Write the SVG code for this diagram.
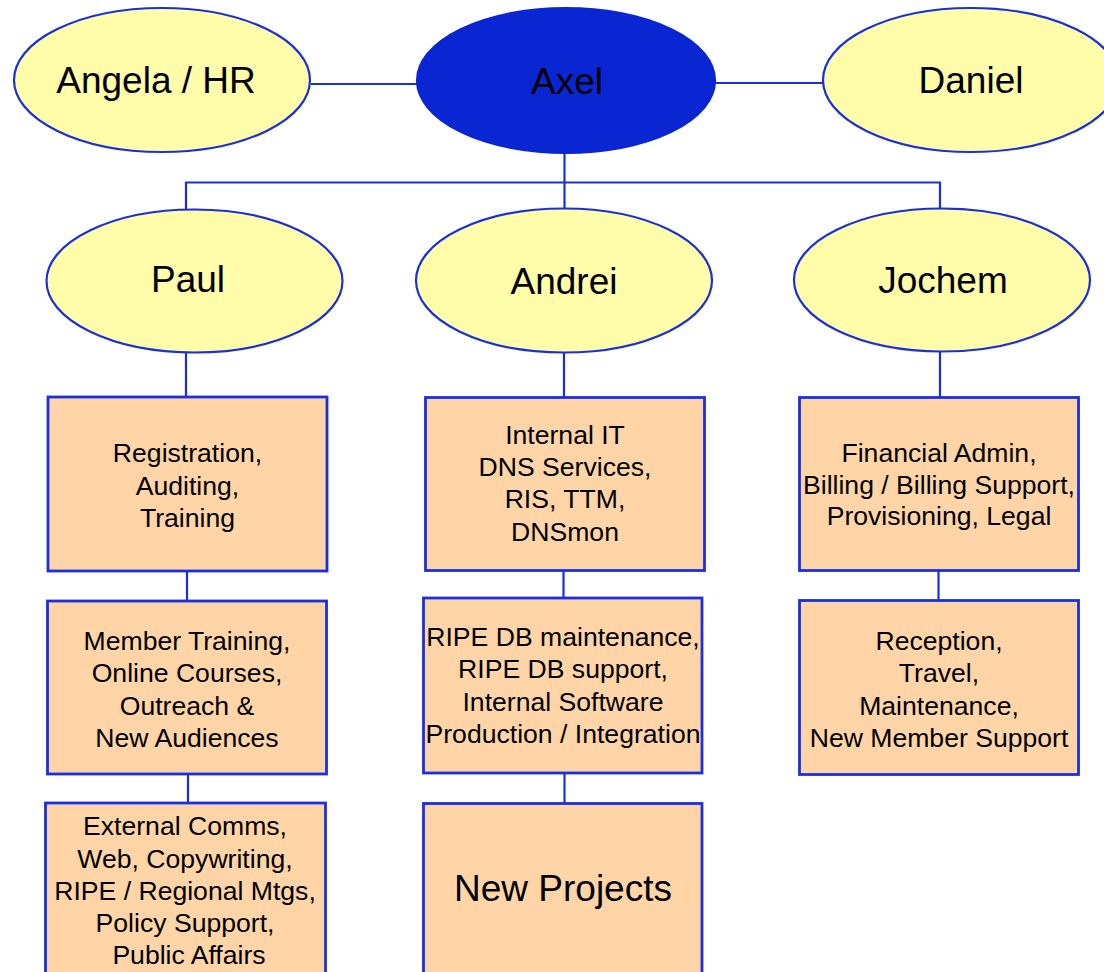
<svg xmlns="http://www.w3.org/2000/svg" width="1104" height="972" viewBox="0 0 1104 972">
<style>
.ell{fill:#FFFCAA;stroke:#1A2FD8;stroke-width:2.2}
.boss{fill:#0A26D3;stroke:#0A26D3;stroke-width:2.2}
.box{fill:#FFD5A8;stroke:#1A2FE0;stroke-width:2.8}
.con{fill:none;stroke:#1A2FD8;stroke-width:2.2}
.big{font-family:"Liberation Sans",Arial,sans-serif;font-size:37px;fill:#000;text-anchor:middle}
.sm{font-family:"Liberation Sans",Arial,sans-serif;font-size:26.6px;fill:#000;text-anchor:middle}
</style>
<rect width="1104" height="972" fill="#FFFFFF"/>
<g id="connectors">
<line class="con" x1="311" y1="84" x2="418" y2="84"/>
<line class="con" x1="715" y1="83" x2="823" y2="83"/>
<line class="con" x1="564.5" y1="152" x2="564.5" y2="209"/>
<polyline class="con" points="186,210 186,182.5 940,182.5 940,209"/>
<line class="con" x1="186" y1="352" x2="186" y2="397"/>
<line class="con" x1="564" y1="352" x2="564" y2="397"/>
<line class="con" x1="940" y1="351" x2="940" y2="397"/>
<line class="con" x1="187" y1="571" x2="187" y2="601"/>
<line class="con" x1="188" y1="774" x2="188" y2="803"/>
<line class="con" x1="563.5" y1="571" x2="563.5" y2="598"/>
<line class="con" x1="564.5" y1="773" x2="564.5" y2="803"/>
<line class="con" x1="938.5" y1="571" x2="938.5" y2="600"/>
</g>
<g id="angela">
<ellipse class="ell" cx="162" cy="80" rx="148" ry="72"/>
<text class="big" x="156" y="93">Angela / HR</text>
</g>
<g id="axel">
<ellipse class="boss" cx="566" cy="80.5" rx="149" ry="72.5"/>
<text class="big" x="567" y="94">Axel</text>
</g>
<g id="daniel">
<ellipse class="ell" cx="971" cy="80" rx="148" ry="72"/>
<text class="big" x="971" y="93">Daniel</text>
</g>
<g id="paul">
<ellipse class="ell" cx="194.5" cy="281" rx="148" ry="71.5"/>
<text class="big" x="188" y="292">Paul</text>
</g>
<g id="andrei">
<ellipse class="ell" cx="564" cy="280.5" rx="148" ry="72"/>
<text class="big" x="564" y="294">Andrei</text>
</g>
<g id="jochem">
<ellipse class="ell" cx="942" cy="280" rx="148" ry="71.5"/>
<text class="big" x="943" y="293">Jochem</text>
</g>
<g id="paul1">
<rect class="box" x="48" y="397" width="279" height="174"/>
<text class="sm" x="187.5" y="462">Registration,</text>
<text class="sm" x="187.5" y="494.5">Auditing,</text>
<text class="sm" x="187.5" y="527">Training</text>
</g>
<g id="paul2">
<rect class="box" x="47.5" y="601" width="279" height="173"/>
<text class="sm" x="187" y="649.5">Member Training,</text>
<text class="sm" x="187" y="682">Online Courses,</text>
<text class="sm" x="187" y="714.5">Outreach &amp;</text>
<text class="sm" x="187" y="746.5">New Audiences</text>
</g>
<g id="paul3">
<rect class="box" x="45.5" y="803" width="280" height="180"/>
<text class="sm" x="185" y="835">External Comms,</text>
<text class="sm" x="185" y="867.5">Web, Copywriting,</text>
<text class="sm" x="185" y="900">RIPE / Regional Mtgs,</text>
<text class="sm" x="185" y="932">Policy Support,</text>
<text class="sm" x="189" y="964">Public Affairs</text>
</g>
<g id="andrei1">
<rect class="box" x="425.5" y="397.5" width="279" height="173"/>
<text class="sm" x="565" y="443.5">Internal IT</text>
<text class="sm" x="565" y="476">DNS Services,</text>
<text class="sm" x="565" y="508">RIS, TTM,</text>
<text class="sm" x="565" y="540.5">DNSmon</text>
</g>
<g id="andrei2">
<rect class="box" x="423.5" y="598" width="278.5" height="175"/>
<text class="sm" x="563" y="645.5">RIPE DB maintenance,</text>
<text class="sm" x="563" y="678">RIPE DB support,</text>
<text class="sm" x="563" y="710.5">Internal Software</text>
<text class="sm" x="563" y="742.5">Production / Integration</text>
</g>
<g id="andrei3">
<rect class="box" x="423.5" y="803.5" width="278.5" height="180"/>
<text class="big" x="563" y="901">New Projects</text>
</g>
<g id="jochem1">
<rect class="box" x="799.5" y="397.5" width="279" height="173"/>
<text class="sm" x="939" y="462">Financial Admin,</text>
<text class="sm" x="939" y="493.5">Billing / Billing Support,</text>
<text class="sm" x="939" y="525">Provisioning, Legal</text>
</g>
<g id="jochem2">
<rect class="box" x="799.5" y="600.5" width="279" height="174"/>
<text class="sm" x="939" y="649.5">Reception,</text>
<text class="sm" x="939" y="682">Travel,</text>
<text class="sm" x="939" y="714.5">Maintenance,</text>
<text class="sm" x="939" y="746.5">New Member Support</text>
</g>
</svg>
